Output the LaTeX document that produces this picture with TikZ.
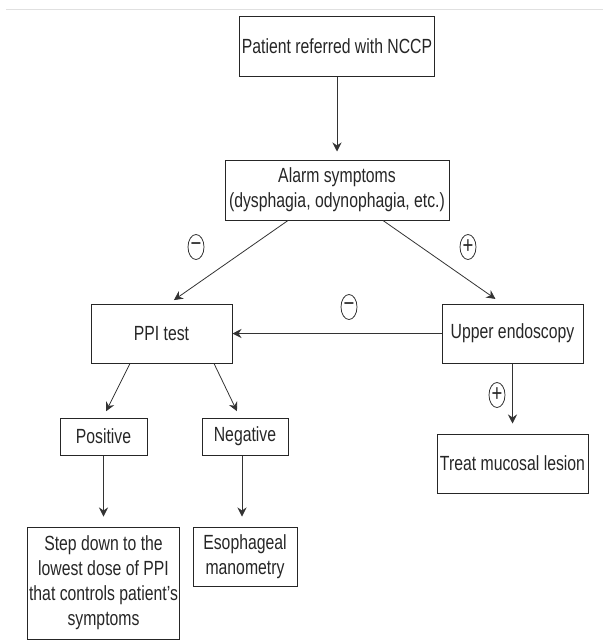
\documentclass[tikz,border=0pt]{standalone}
\usepackage{fontspec}
\setmainfont{Liberation Sans}[FakeStretch=0.77]
\usetikzlibrary{arrows.meta, shapes.geometric}

\begin{document}
\begin{tikzpicture}[x=1pt, y=-1pt,
    box/.style={draw=black!85, line width=1pt, align=center, inner sep=2pt,
      text=black!85, font=\fontsize{20.5}{25}\selectfont},
    sign/.style={draw=black!80, ellipse, line width=0.8pt, inner sep=0pt,
      minimum width=16pt, minimum height=25pt, text=black!85,
      font=\fontsize{24}{24}\selectfont},
    flow/.style={draw=black!80, line width=0.8pt,
      -{Stealth[length=9pt, width=9pt, inset=3pt]}}]
    \useasboundingbox (0,0) rectangle (603,640);
    \draw[black!12, line width=1pt] (6,9.5) -- (603,9.5);

    \node[box, minimum width=192pt, minimum height=60pt] (nccp) at (337,46) {Patient referred with NCCP};
    \node[box, minimum width=224pt, minimum height=60pt] (alarm) at (337,190) {Alarm symptoms\\(dysphagia, odynophagia, etc.)};
    \node[box, minimum width=141pt, minimum height=59pt] (ppi) at (161.5,333.5) {PPI test};
    \node[box, minimum width=141pt, minimum height=59pt] (endo) at (512.5,333.5) {Upper endoscopy};
    \node[box, minimum width=87pt, minimum height=37pt] (pos) at (103.5,436.5) {Positive};
    \node[box, minimum width=86pt, minimum height=37pt] (neg) at (245,436.5) {Negative};
    \node[box, minimum width=151pt, minimum height=112pt] (step) at (103.5,583) {Step down to the\\lowest dose of PPI\\that controls patient's\\symptoms};
    \node[box, minimum width=104pt, minimum height=59pt] (eso) at (245,556.5) {Esophageal\\manometry};
    \node[box, minimum width=151pt, minimum height=59pt] (treat) at (512.5,463.5) {Treat mucosal lesion};

    \node[sign] (nominus) at (196,247) {−};
    \node[sign] (yesplus) at (468,247) {+};
    \node[sign] (endominus) at (349,307) {−};
    \node[sign] (endoplus) at (497,395) {+};

    \draw[flow, shorten >=8pt] (nccp.south) -- (alarm.north);
    \draw[flow, shorten >=6pt] ([xshift=-49pt]alarm.south) -- ([xshift=7.5pt]ppi.north);
    \draw[flow, shorten >=8pt] ([xshift=46pt]alarm.south) -- ([xshift=-10.5pt]endo.north);
    \draw[flow] (endo.west) -- (ppi.east);
    \draw[flow, shorten >=7pt] ([xshift=-31.5pt]ppi.south) -- ([xshift=-0.5pt]pos.north);
    \draw[flow, shorten >=7pt] ([xshift=52.5pt]ppi.south) -- ([xshift=-5pt]neg.north);
    \draw[flow, shorten >=10pt] (pos.south) -- (step.north);
    \draw[flow, shorten >=10pt] ([xshift=-3pt]neg.south) -- ([xshift=-3pt]eso.north);
    \draw[flow, shorten >=10pt] (endo.south) -- (treat.north);
\end{tikzpicture}
\end{document}
